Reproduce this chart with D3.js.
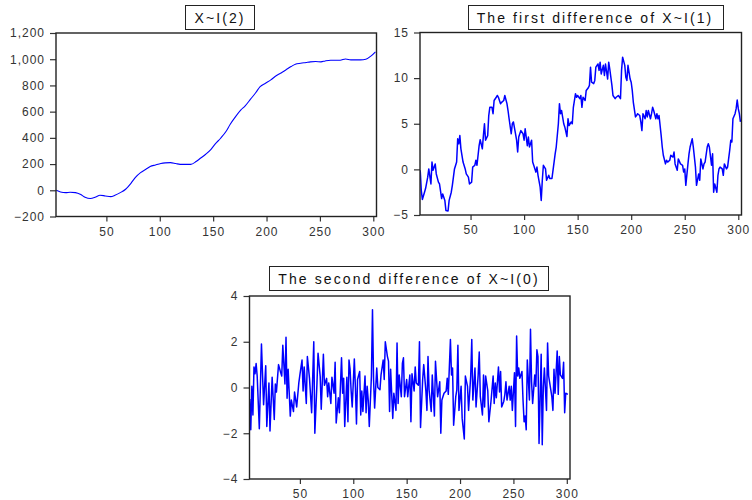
<html>
<head>
<meta charset="utf-8">
<title>X~I(2) and its differences</title>
<script src="https://d3js.org/d3.v7.min.js"></script>
<style>
    body { margin: 0; background: #fff; }
    svg { font-family: "Liberation Sans", Arial, sans-serif; }
    .tick text { font-size: 12px; letter-spacing: 1px; fill: #333; }
    .tick line { stroke: #333; }
    .title { font-size: 14px; letter-spacing: 2.1px; fill: #111; }
</style>
</head>
<body>
<script>
// x-axis ticks shared by all three panels
var obsTicks = [50, 100, 150, 200, 250, 300];

// X ~ I(2), the level series
var levelObs = [3,7,12,16,21,26,30,35,40,44, 49,54,58,63,68,73,77,82,87,91,
    96,101,105,110,115,119,124,129,134,138, 143,148,152,157,162,166,171,176,180,185,
    190,194,199,204,208,213,218,223,227,232, 237,241,246,251,255,260,265,269,274,279,
    283,288,293,298,302];
var levelVals = [0,-13,-18,-15,-18,-33,-53,-63,-51,-38, -43,-48,-38,-18,8,53,97,135,160,181,
    193,204,209,211,204,198,198,198,219,244, 275,313,354,397,448,504,562,613,644,695,
    746,791,817,842,868,893,918,944,962,969, 975,980,982,980,987,992,992,992,1002,995,
    995,995,1000,1025,1056];

// first difference, I(1)
var diff1Obs = [3,4,5,7,8,10,11,13,14,15, 17,18,20,21,23,24,26,27,29,30,
    32,33,35,37,38,39,40,41,43,45, 46,48,49,51,52,54,55,56,58,59,
    61,62,63,64,66,67,68,70,71,72, 74,75,76,78,79,81,82,84,85,86,
    88,89,90,92,93,94,95,97,99,100, 101,103,104,105,107,108,109,111,112,113,
    115,116,117,118,120,121,123,124,126,127, 129,130,132,133,134,135,137,138,140,141,
    142,144,145,146,148,149,150,152,153,154, 155,157,158,160,161,162,163,165,166,167,
    169,170,171,172,174,175,176,178,179,180, 182,183,185,186,188,190,191,192,194,195,
    196,197,199,200,201,202,204,205,206,208, 209,210,211,213,214,215,216,218,219,220,
    221,223,224,225,226,228,229,230,232,233, 234,236,237,239,240,241,243,244,246,248,
    249,250,251,253,254,255,257,258,260,261, 263,264,265,267,268,269,271,272,273,275,
    276,277,278,280,281,282,283,285,286,287, 289,290,292,293,294,295,297,298,299,300,
    301,302];
var diff1Vals = [-0.1,-2.3,-3.3,-2.5,-2.1,-0.85,0.05,-1.6,0.8,-0.1,
    0.6,-0.5,-1.4,-1.6,-3.2,-2.7,-3.4,-4.5,-4.55,-3.4,
    -2.5,-1.75,0.05,0.8,3.35,2.8,3.7,2.25,0.8,0.05,
    -0.5,-0.85,-1.6,-1.4,0.25,0.45,1.0,0.45,2.6,3.25,
    2.25,3.7,5.0,3.2,3.7,5.9,6.8,6.8,6.1,7.55,
    7.9,8.1,7.9,7.2,7.35,7.55,8.1,7.2,6.45,5.55,
    3.9,5.0,5.2,3.9,3.2,1.9,3.55,4.25,3.9,3.2,
    4.45,2.6,3.55,2.45,3.2,0.8,0.45,-0.3,0.25,-0.65,
    -1.95,-3.4,-1.2,0.45,0.05,-1.2,-0.65,-1.0,-1.0,-0.1,
    1.7,2.45,5.0,7.2,6.1,6.45,5.0,4.65,3.6,5.55,
    4.8,5.2,5.0,6.8,8.3,7.9,8.1,7.75,8.1,6.8,
    7.9,7.55,8.65,8.95,9.2,11.2,9.55,9.4,9.75,11.2,
    11.55,10.85,11.75,10.45,11.4,10.3,11.55,9.9,11.75,11.0,
    9.2,8.1,7.75,7.9,8.1,7.75,10.85,12.3,11.4,10.1,
    9.75,11.4,9.9,9.55,8.65,7.35,5.75,5.9,6.1,5.9,
    5.2,4.25,6.1,5.55,6.45,5.75,6.45,5.55,6.1,6.8,
    6.45,5.55,6.1,5.55,5.9,3.7,2.45,1.55,0.6,1.0,
    0.8,1.0,1.55,1.35,1.9,0.6,-0.1,1.15,0.6,0.45,
    -0.3,0.05,-1.75,0.6,1.7,2.45,3.35,2.45,0.25,-1.75,
    -0.5,-1.2,1.15,0.05,0.6,0.8,2.45,2.8,2.45,0.45,
    1.7,-2.5,-1.6,-2.5,-0.65,0.05,0.25,0.05,-0.65,0.6,
    0.05,0.25,2.1,3.2,3.0,5.55,6.1,6.65,7.6,6.65,
    6.1,5.2];

// second difference, I(0)
var diff2Obs = [3,4,5,6,7,8,9,10,12,14, 16,18,19,21,22,24,26,27,28,30,
    32,33,34,36,37,38,39,41,42,44, 45,47,49,50,52,53,54,56,57,59,
    61,63,64,66,67,69,70,72,73,75, 76,77,79,80,82,83,84,86,87,89,
    90,91,92,94,95,96,97,98,99,101, 102,103,104,106,107,108,109,111,112,113,
    114,115,117,118,119,120,122,123,125,126, 128,129,130,132,133,134,135,137,138,140,
    141,142,143,145,146,147,148,150,151,153, 154,155,157,158,159,161,162,163,165,166,
    168,169,170,171,173,174,176,177,179,181, 182,183,185,187,188,189,191,192,193,194,
    196,197,198,199,201,202,204,205,207,208, 210,211,212,214,215,217,218,219,221,222,
    223,224,226,227,229,231,232,233,234,236, 237,238,239,241,242,243,244,246,247,248,
    249,251,252,253,254,255,256,258,259,260, 261,262,263,265,266,267,268,270,271,272,
    273,274,276,277,278,279,281,282,283,284, 286,287,288,289,291,292,293,294,296,297,
    298,299,301];
var diff2Vals = [-0.5,-1.85,0.05,-1.2,0.9,0.6,1.05,0.5,-1.8,1.9,
    -0.75,0.95,-1.7,0.2,-1.9,0.45,-1.4,0.15,-0.2,1.0,
    0.65,0.5,1.85,0.15,2.2,-0.47,0.8,-1.25,-0.55,-1.05,
    -0.2,-0.85,0.2,0.55,1.2,-0.15,0.9,-0.7,1.35,0.4,
    -1.1,2.0,-2.0,0.2,1.5,0.5,-0.95,1.45,0.1,0.4,
    -0.4,0.2,-0.7,0.45,-0.25,1.1,-1.55,-0.45,-1.1,1.3,
    -0.25,0.4,-1.7,0.45,-1.5,1.2,0.8,-0.15,-0.85,1.25,
    0,-1.6,0.35,0.7,-1.2,-0.15,-1.05,0.5,-1.1,0.05,
    -0.55,-1.7,0.5,3.4,0.35,-0.9,0.85,0,-0.1,0.55,
    1.2,0.35,2.0,1.35,1.15,-1.05,0.8,-1.35,-0.25,-1.0,
    1.95,-0.7,0.55,-0.4,1.05,1.3,-0.4,0.35,-0.4,0.55,
    -1.5,0.6,-0.15,0.9,0.2,0.1,2.0,-1.75,0.35,1.0,
    -0.15,-1.0,1.35,-0.1,-1.05,0.55,-1.25,1.15,-0.4,0.25,
    -2.0,-0.55,-0.25,-0.15,0.4,-0.3,2.1,0.55,0.85,-1.65,
    -0.4,-0.1,1.85,-1.0,0.05,-1.35,-2.25,0.5,0.05,-1.0,
    0.5,2.1,-0.55,0.85,-0.85,0.55,1.55,-0.4,-1.2,0.55,
    -0.85,0.5,-0.15,-1.5,-0.6,0.5,-0.7,0.2,-0.45,0.9,
    -0.2,0.7,-0.85,-0.6,-0.3,0.25,-0.55,0.05,-0.55,0.05,
    -1.0,0.65,-1.7,2.25,0.5,0.85,0.4,0.7,-0.55,-1.5,
    -1.25,-1.85,1.2,-0.55,2.55,0.25,-0.7,0.55,0.05,1.65,
    1.35,-2.45,1.45,-2.5,0,0.85,-1.0,1.95,0.5,0.2,
    -0.4,-1.0,0.8,-0.25,1.6,-0.3,1.35,0.55,0.4,1.1,
    -1.1,-0.25,-0.3];

var panels = [
    { title: "X~I(2)", titleX: 220, titleY: 5,
      left: 56, right: 376.5, top: 33, bottom: 216.5,
      yDomain: [-200, 1200], yTicks: d3.range(-200, 1201, 200), fmt: d3.format(","),
      obs: levelObs, vals: levelVals, lw: 1.1 },
    { title: "The first difference of X~I(1)", titleX: 595, titleY: 5,
      left: 420, right: 741.5, top: 32.5, bottom: 215,
      yDomain: [-5, 15], yTicks: [-5, 0, 5, 10, 15], fmt: d3.format("d"),
      obs: diff1Obs, vals: diff1Vals, lw: 1.5 },
    { title: "The second difference of X~I(0)", titleX: 409, titleY: 266,
      left: 249.5, right: 570, top: 296, bottom: 479,
      yDomain: [-4, 4], yTicks: [-4, -2, 0, 2, 4], fmt: d3.format("d"),
      obs: diff2Obs, vals: diff2Vals, lw: 1.5 }
];

var svg = d3.select("body").append("svg")
    .attr("width", 752)
    .attr("height", 500);

svg.append("rect").attr("width", 752).attr("height", 500).attr("fill", "#fff");

panels.forEach(function(p, i) {
    var x = d3.scaleLinear().domain([2.8, 303]).range([p.left, p.right]);
    var y = d3.scaleLinear().domain(p.yDomain).range([p.bottom, p.top]);
    var g = svg.append("g");

    g.append("clipPath").attr("id", "clip" + i)
        .append("rect")
        .attr("x", p.left).attr("y", p.top)
        .attr("width", p.right - p.left).attr("height", p.bottom - p.top);

    // axes
    var ya = g.append("g")
        .attr("transform", "translate(" + p.left + ",0)")
        .call(d3.axisLeft(y).tickValues(p.yTicks).tickFormat(p.fmt).tickSize(6).tickSizeOuter(0).tickPadding(5));
    var xa = g.append("g")
        .attr("transform", "translate(0," + p.bottom + ")")
        .call(d3.axisBottom(x).tickValues(obsTicks).tickSize(5).tickSizeOuter(0).tickPadding(5));
    ya.select(".domain").remove();
    xa.select(".domain").remove();
    g.selectAll(".tick line").attr("stroke-width", 1.2);
    xa.selectAll(".tick text").attr("dy", "0.75em");

    // series line
    var line = d3.line()
        .x(function(d) { return x(d[0]); })
        .y(function(d) { return y(d[1]); });
    if (i == 0) line.curve(d3.curveMonotoneX);

    g.append("path")
        .datum(d3.zip(p.obs, p.vals))
        .attr("clip-path", "url(#clip" + i + ")")
        .attr("fill", "none")
        .attr("stroke", "#0000ff")
        .attr("stroke-width", p.lw)
        .attr("stroke-linejoin", "round")
        .attr("d", line);

    // frame
    g.append("rect")
        .attr("x", p.left).attr("y", p.top)
        .attr("width", p.right - p.left).attr("height", p.bottom - p.top)
        .attr("fill", "none")
        .attr("stroke", "#222")
        .attr("stroke-width", 1.4);

    // boxed title
    var t = g.append("text")
        .attr("class", "title")
        .attr("x", p.titleX)
        .attr("y", p.titleY + 17.5)
        .attr("text-anchor", "middle")
        .text(p.title);
    var bb = t.node().getBBox();
    g.insert("rect", ".title")
        .attr("x", Math.round(bb.x - 9) + 0.5)
        .attr("y", p.titleY + 0.5)
        .attr("width", Math.round(bb.width + 18))
        .attr("height", 24)
        .attr("fill", "#fff")
        .attr("stroke", "#222")
        .attr("stroke-width", 1);
});
</script>
</body>
</html>
